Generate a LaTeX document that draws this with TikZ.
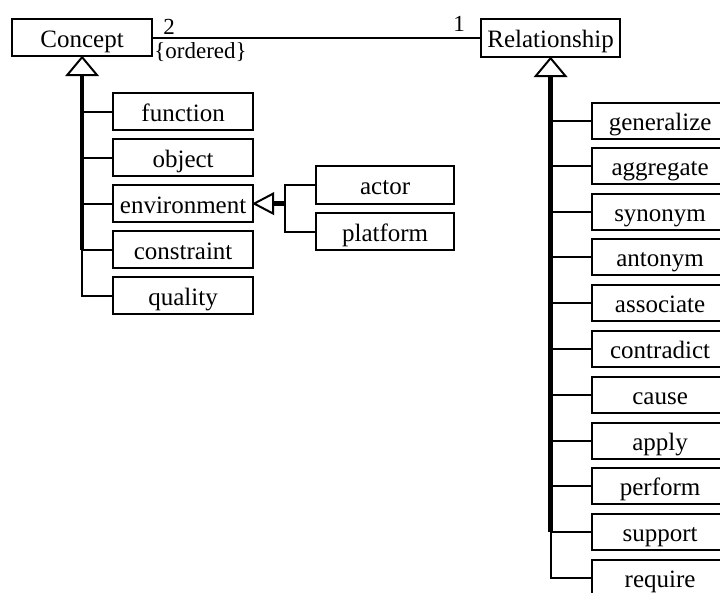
\documentclass[tikz,border=0pt]{standalone}
\usepackage{fontspec}
\setmainfont{Liberation Serif}
\usetikzlibrary{calc}
\begin{document}
\begin{tikzpicture}[x=1pt,y=-1pt,
  cls/.style={draw, line width=2.2pt, rectangle, inner sep=0pt, anchor=north west,
    minimum width=140pt, minimum height=37pt, text height=19pt, text depth=0pt,
    font=\fontsize{25}{28}\selectfont},
  lbl/.style={inner sep=0pt, font=\fontsize{23}{26}\selectfont},
  link/.style={line width=2pt},
  trunk/.style={line width=4.5pt},
  hollow/.style={draw, fill=white, line width=2pt, line join=miter}]
\clip (0,0) rectangle (720,592);
\fill[white] (0,0) rectangle (720,592);

% top-level classes
\node[cls] (concept) at (11,18) {Concept};
\node[cls, minimum width=139pt, minimum height=38pt] (relationship) at (480,18) {Relationship};

% association between them
\draw[link] (concept.east) -- (concept.east -| relationship.west);
\node[lbl, anchor=south west] (mtwo) at ($(concept.east)+(10,-3)$) {2};
\node[lbl, anchor=north west] (ord) at ($(concept.east)+(1,5)$) {\{ordered\}};
\node[lbl, anchor=south east] (mone) at ($(relationship.west)+(-15,-6)$) {1};

% kinds of concept
\node[cls] (function) at (112,92) {function};
\node[cls] (object) at (112,138) {object};
\node[cls] (environment) at (112,184) {environment};
\node[cls] (constraint) at (112,230) {constraint};
\node[cls] (quality) at (112,276) {quality};

% kinds of environment
\node[cls, minimum width=138pt, minimum height=38pt] (actor) at (315,165) {actor};
\node[cls, minimum width=138pt] (platform) at (315,212) {platform};

% kinds of relationship
\foreach \n/\t in {generalize/102, aggregate/147, synonym/193, antonym/238,
    associate/284, contradict/330, cause/376, apply/422, perform/467,
    support/513, require/559}
  \node[cls, minimum width=136pt, minimum height=36pt] (\n) at (591,\t) {\n};

% generalization: concept
\coordinate (cb) at ($(concept.south)+(0,18)$);
\draw[trunk] (cb) -- (cb |- constraint.west);
\draw[link] (cb) |- (quality.west);
\foreach \n in {function,object,environment,constraint}
  \draw[link] (cb |- \n.west) -- (\n.west);
\draw[hollow] (concept.south) -- ++(-15,18) -- ++(30,0) -- cycle;

% generalization: environment
\coordinate (eb) at ($(environment.east)+(19,0)$);
\coordinate (ej) at ($(eb)+(12,0)$);
\draw[trunk] (eb) -- (ej);
\draw[link] (actor.west) -| (ej) |- (platform.west);
\draw[hollow] (environment.east) -- ++(19,-10) -- ++(0,20) -- cycle;

% generalization: relationship
\coordinate (rb) at ($(relationship.south)+(0,18)$);
\draw[trunk] (rb) -- (rb |- support.west);
\draw[link] (rb) |- (require.west);
\foreach \n in {generalize,aggregate,synonym,antonym,associate,contradict,cause,apply,perform,support}
  \draw[link] (rb |- \n.west) -- (\n.west);
\draw[hollow] (relationship.south) -- ++(-15,18) -- ++(30,0) -- cycle;
\end{tikzpicture}
\end{document}
